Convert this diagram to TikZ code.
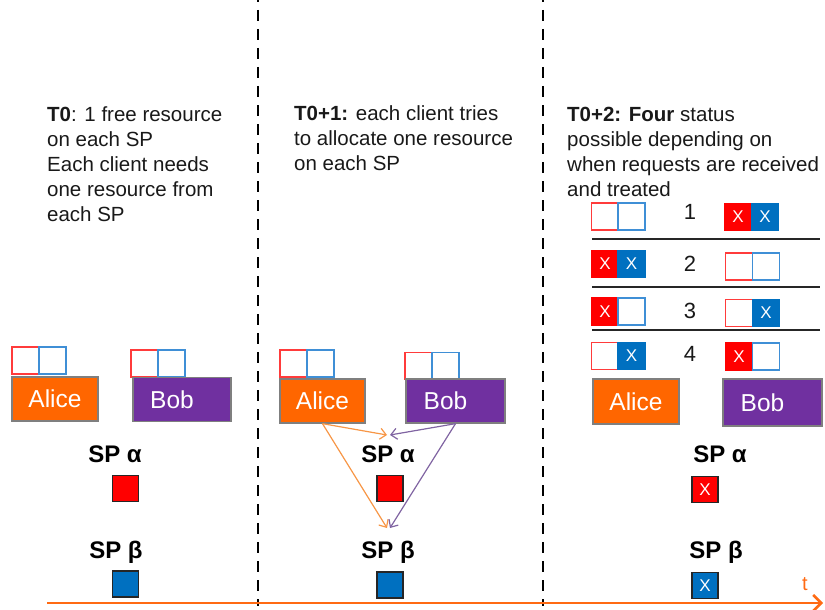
\documentclass[tikz,border=0pt]{standalone}
\usepackage{fontspec}
\setmainfont{Liberation Sans}
\usetikzlibrary{arrows.meta}
\definecolor{aliceor}{HTML}{FF6600}
\definecolor{bobpu}{HTML}{7030A0}
\definecolor{spred}{HTML}{FF0000}
\definecolor{spblue}{HTML}{0070C0}
\definecolor{outred}{HTML}{FF3B3B}
\definecolor{outblue}{HTML}{3F8FD6}
\definecolor{clientgray}{HTML}{7F7F7F}
\definecolor{sqborder}{HTML}{262626}
\definecolor{alicearrow}{HTML}{F79646}
\definecolor{bobarrow}{HTML}{8064A2}
\definecolor{lineor}{HTML}{FF6A13}
\begin{document}
\begin{tikzpicture}[x=1pt,y=-1pt,
  body/.style={font=\fontsize{20.5}{25}\selectfont, align=left, anchor=base west, inner sep=0, text=black!90},
  client/.style={draw=clientgray, line width=1.3pt, text=white, font=\fontsize{24.5}{28}\selectfont, inner sep=0, minimum height=44pt},
  cell/.style={rectangle, minimum size=27pt, inner sep=0, line width=1.2pt, font=\fontsize{17}{20}\selectfont, text=white},
  redE/.style={cell, draw=outred, fill=white},
  bluE/.style={cell, draw=outblue, fill=white},
  redF/.style={cell, fill=spred, draw=spred},
  bluF/.style={cell, fill=spblue, draw=spblue},
  sqr/.style={cell, draw=sqborder, minimum size=26pt},
  splabel/.style={font=\bfseries\fontsize{24}{28}\selectfont, inner sep=0},
  num/.style={font=\fontsize{22}{26}\selectfont, inner sep=0, text=black!90},
  sepline/.style={line width=1.3pt, draw=black!85},
  dashline/.style={line width=2.5pt, dash pattern=on 11pt off 8pt, dash phase=9pt},
  aarr/.style={draw=alicearrow, line width=1.2pt, -{Straight Barb[length=6pt,width=11pt]}},
  barr/.style={draw=bobarrow, line width=1.2pt, -{Straight Barb[length=6pt,width=11pt]}}
]
\useasboundingbox (0,0) rectangle (825,610);

% dashed separators
\coordinate (d1t) at (258,0);
\coordinate (d1b) at (258,606);
\coordinate (d2t) at (543,0);
\coordinate (d2b) at (543,606);
\draw[dashline] (d1t) -- (d1b);
\draw[dashline] (d2t) -- (d2b);

% time line
\coordinate (tl0) at (47,603);
\coordinate (tl1) at (823,603);
\draw[lineor, line width=2.5pt, -{Straight Barb[length=8pt,width=16pt,line width=2.5pt]}] (tl0) -- (tl1);
\node[text=lineor, font=\fontsize{20}{24}\selectfont, inner sep=0] (tlab) at (805,584) {t};

% ---------- panel 1 ----------
\node[body] (txt1) at (47,221) {\textbf{T0}: 1 free resource\\on each SP\\Each client needs\\one resource from\\each SP};
\node[redE] (a1r) at (25.5,360.5) {};
\node[bluE] (a1b) at (52.5,360.5) {};
\node[redE] (b1r) at (144.5,363.5) {};
\node[bluE] (b1b) at (171.5,363.5) {};
\node[client, fill=aliceor, minimum width=86pt] (alice1) at (55,399) {Alice};
\node[client, fill=bobpu, minimum width=98pt] (bob1) at (182,399.5) {Bob\hspace*{20pt}};
\node[splabel] (spa1) at (115,454) {SP α};
\node[sqr, fill=spred] (sqa1) at (125.5,488.5) {};
\node[splabel] (spb1) at (116,552) {SP β};
\node[sqr, fill=spblue] (sqb1) at (125.5,584) {};

% ---------- panel 2 ----------
\node[body] (txt2) at (294,170) {\textbf{T0+1:} each client tries\\to allocate one resource\\on each SP};
\node[redE] (a2r) at (293.5,363.5) {};
\node[bluE] (a2b) at (320.5,363.5) {};
\node[redE] (b2r) at (418.5,366) {};
\node[bluE] (b2b) at (445.5,366) {};
\node[client, fill=aliceor, minimum width=85pt] (alice2) at (322.5,401) {Alice};
\node[client, fill=bobpu, minimum width=99pt] (bob2) at (455.5,401) {Bob\hspace*{20pt}};
\node[splabel] (spa2) at (388,454) {SP α};
\node[sqr, fill=spred] (sqa2) at (390,488.5) {};
\node[splabel] (spb2) at (388,552) {SP β};
\node[sqr, fill=spblue] (sqb2) at (390,585) {};
\coordinate (tipA) at (387,435);
\coordinate (tipB) at (390,435);
\coordinate (tipC) at (387,528);
\coordinate (tipD) at (390,528);
\draw[aarr] (alice2.south) -- (tipA);
\draw[barr] (bob2.south) -- (tipB);
\draw[aarr] (alice2.south) -- (tipC);
\draw[barr] (bob2.south) -- (tipD);

% ---------- panel 3 ----------
\node[body] (txt3) at (567,196) {\textbf{T0+2: Four} status\\possible depending on\\when requests are received\\and treated};
% row 1
\node[redE] (r1lr) at (605,216.5) {};
\node[bluE] (r1lb) at (631.5,216.5) {};
\node[num] (n1) at (690,212) {1};
\node[redF] (r1rr) at (738,217) {X};
\node[bluF] (r1rb) at (765,217) {X};
\coordinate (s1a) at (592,239);
\coordinate (s1b) at (820,239);
\draw[sepline] (s1a) -- (s1b);
% row 2
\node[redF] (r2lr) at (605,264) {X};
\node[bluF] (r2lb) at (631.5,264) {X};
\node[num] (n2) at (690,264) {2};
\node[redE] (r2rr) at (739,266.5) {};
\node[bluE] (r2rb) at (766,266.5) {};
\coordinate (s2a) at (592,287);
\coordinate (s2b) at (820,287);
\draw[sepline] (s2a) -- (s2b);
% row 3
\node[redF] (r3lr) at (605,311.5) {X};
\node[bluE] (r3lb) at (631.5,311.5) {};
\node[num] (n3) at (690,311) {3};
\node[redE] (r3rr) at (739,313) {};
\node[bluF] (r3rb) at (766,313) {X};
\coordinate (s3a) at (592,330);
\coordinate (s3b) at (820,330);
\draw[sepline] (s3a) -- (s3b);
% row 4
\node[redE] (r4lr) at (605,356) {};
\node[bluF] (r4lb) at (631.5,356) {X};
\node[num] (n4) at (690,354) {4};
\node[redF] (r4rr) at (739,356.5) {X};
\node[bluE] (r4rb) at (766,356.5) {};

\node[client, fill=aliceor, minimum width=86pt, minimum height=45pt] (alice3) at (636,401.5) {Alice};
\node[client, fill=bobpu, minimum width=99pt, minimum height=47pt] (bob3) at (772.5,402.5) {Bob\hspace*{20pt}};
\node[splabel] (spa3) at (720,454) {SP α};
\node[sqr, fill=spred] (sqa3) at (705,489.5) {X};
\node[splabel] (spb3) at (716,552) {SP β};
\node[sqr, fill=spblue] (sqb3) at (705,585.5) {X};
\end{tikzpicture}
\end{document}
